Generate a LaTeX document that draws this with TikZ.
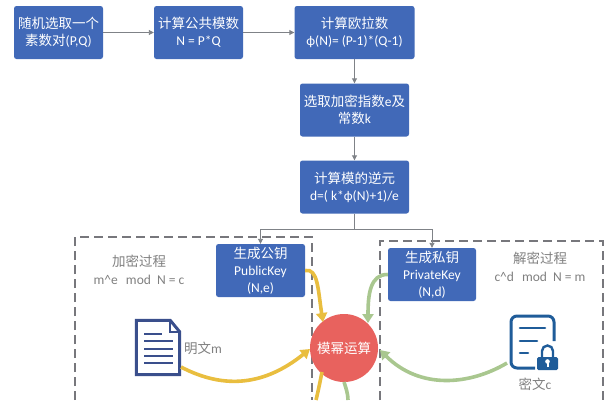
\documentclass[tikz,border=0pt]{standalone}
\usepackage{fontspec}
\setmainfont{Carlito}
\newfontfamily\cjk{Noto Sans CJK SC}
\newcommand{\cn}[1]{{\cjk #1}}
\usetikzlibrary{arrows.meta,calc}
\definecolor{boxblue}{HTML}{4169B8}
\definecolor{linegray}{HTML}{7F8287}
\definecolor{labelgray}{HTML}{808080}
\definecolor{dashgray}{HTML}{77777C}
\definecolor{circred}{HTML}{E8625E}
\definecolor{curveyellow}{HTML}{E9BE3F}
\definecolor{curvegreen}{HTML}{A9C78F}
\definecolor{docblue}{HTML}{3A4F8C}
\definecolor{lockblue}{HTML}{1F5C99}
\tikzset{
  x=1pt,y=-1pt,
  bluebox/.style={draw=none,fill=boxblue,rounded corners=2.5pt,text=white,align=center,inner sep=0pt,font=\fontsize{13.5}{17}\selectfont},
  flow/.style={draw=linegray,line width=0.9pt,-{Triangle[length=5pt,width=5pt]}},
  branch/.style={draw=linegray,line width=0.9pt},
  dashbox/.style={draw=dashgray,line width=1.2pt,dash pattern=on 9pt off 5pt},
  ycurve/.style={draw=curveyellow,line width=3.6pt,-{Triangle[length=9pt,width=11pt]}},
  gcurve/.style={draw=curvegreen,line width=3.6pt,-{Triangle[length=9pt,width=11pt]}},
  greylabel/.style={text=labelgray,align=center,inner sep=0pt,font=\fontsize{13.5}{18}\selectfont},
}
\begin{document}
\begin{tikzpicture}
\useasboundingbox (0,0) rectangle (613,400);
\clip (0,0) rectangle (613,400);
\fill[white] (0,0) rectangle (613,400);
% dashed frames
\draw[dashbox] (75,400) -- (75,237) -- (312,237) -- (312,400);
\draw[dashbox] (380,400) -- (380,241) -- (603,241) -- (603,400);
% boxes
\node[bluebox,minimum width=89pt,minimum height=53pt] (a) at (58.5,32.5) {\cn{随机选取一个}\\\cn{素数对}(P,Q)};
\node[bluebox,minimum width=89pt,minimum height=53pt] (b) at (198.5,32.5) {\cn{计算公共模数}\\N = P*Q};
\node[bluebox,minimum width=120pt,minimum height=53pt] (c) at (354.5,32.5) {\cn{计算欧拉数}\\ϕ(N)= (P-1)*(Q-1)};
\node[bluebox,minimum width=109pt,minimum height=53pt] (d) at (354.5,110) {\cn{选取加密指数}e\cn{及}\\\cn{常数}k};
\node[bluebox,minimum width=109pt,minimum height=53pt] (e) at (354.5,187) {\cn{计算模的逆元}\\d=( k*ϕ(N)+1)/e};
\node[bluebox,minimum width=89pt,minimum height=53pt] (pub) at (260.5,270.5) {\cn{生成公钥}\\PublicKey\\(N,e)};
\node[bluebox,minimum width=88pt,minimum height=53pt] (priv) at (432,274.5) {\cn{生成私钥}\\PrivateKey\\(N,d)};
% flow
\draw[flow] (a) -- (b);
\draw[flow] (b) -- (c);
\draw[flow] (c) -- (d);
\draw[flow] (d) -- (e);
\coordinate (split) at (354.5,229);
\draw[branch] (e) -- (split);
\draw[flow] (split) -| (pub.north);
\draw[flow] (split) -| (priv.north);
% circle
\node[circle,fill=circred,minimum size=68pt,inner sep=0pt,text=white,font=\fontsize{13.5}{16}\selectfont] (mod) at (344,348) {\cn{模幂运算}};
% plain document icon
\node[draw=none,minimum width=46pt,minimum height=57pt,inner sep=0pt] (doc) at (158,347.5) {};
\draw[docblue,line width=3pt,fill=white,line join=miter]
  ($(doc.north west)+(1.5,1.5)$) -- ($(doc.north east)+(-11,1.5)$) -- ($(doc.north east)+(-1.5,13)$) -- ($(doc.south east)+(-1.5,-1.5)$) -- ($(doc.south west)+(1.5,-1.5)$) -- cycle;
\draw[docblue,line width=2pt] ($(doc.north east)+(-11,1.5)$) -- ($(doc.north east)+(-11,13)$) -- ($(doc.north east)+(-1.5,13)$);
\foreach \yy/\xx in {334/162,341/173,349/173,356/173,363/173}
  \draw[docblue,line width=1.2pt] (144,\yy) -- (\xx,\yy);
% cipher icon
\node[draw=none,minimum width=48pt,minimum height=55pt,inner sep=0pt] (ciph) at (534,342.5) {};
\draw[lockblue,line width=3pt,rounded corners=6pt]
  (554,341) -- (554,316) -- (511,316) -- (511,368) -- (535,368);
\foreach \yy/\xx in {328/545,341/537,353/528}
  \draw[lockblue,line width=2.6pt,line cap=round] (520,\yy) -- (\xx,\yy);
\draw[lockblue,line width=2.4pt] (542,358) -- (542,351) arc[start angle=180,end angle=360,radius=5.5] -- (553,358);
\fill[lockblue,rounded corners=1.5pt] (537,357) rectangle (558,370);
\fill[white] (547.5,361.5) circle (2.3);
\fill[white] (546.5,362) rectangle (548.5,366.5);
% texts
\node[greylabel] (enc) at (139,269.5) {\cn{加密过程}\\m\textasciicircum e\hspace{5pt} mod\hspace{3pt} N = c};
\node[greylabel] (dec) at (540,267) {\cn{解密过程}\\c\textasciicircum d\hspace{5pt} mod\hspace{3pt} N = m};
\node[greylabel,anchor=west] (plain) at (184,348) {\cn{明文}m};
\node[greylabel] (ctext) at (535,384) {\cn{密文}c};
% thick curves
\draw[ycurve] (pub.east) .. controls (318,268) and (318,290) .. (323,322);
\draw[ycurve] (181,367) .. controls (225,390) and (265,385) .. (310,349);
\coordinate (yout) at (316,400);
\draw[draw=curveyellow,line width=3.6pt] (322,372) .. controls (320,382) and (318,392) .. (yout);
\draw[gcurve] (priv.west) .. controls (370,274) and (368,295) .. (368,323);
\draw[gcurve] (507,363) .. controls (470,385) and (420,390) .. (380,350);
\coordinate (gout) at (348,400);
\draw[draw=curvegreen,line width=3.6pt] (344,382) .. controls (346,388) and (348,394) .. (gout);
\end{tikzpicture}
\end{document}
